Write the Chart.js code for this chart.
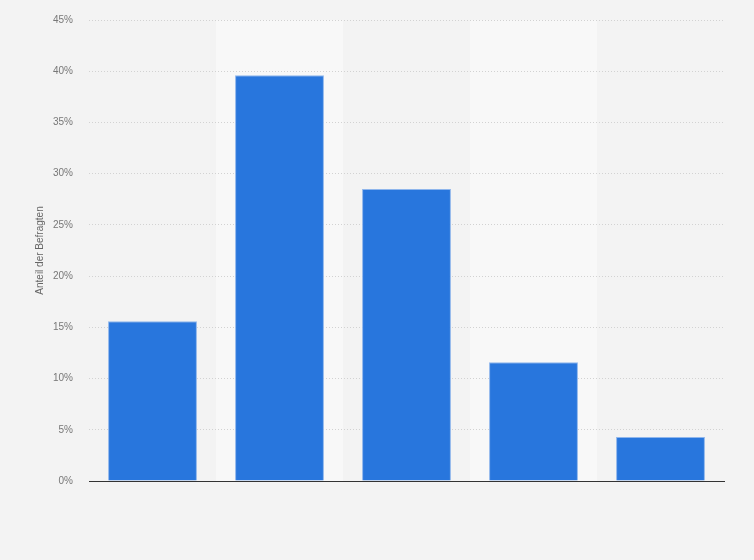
<!DOCTYPE html>
<html>
<head>
<meta charset="utf-8">
<script src="https://cdn.jsdelivr.net/npm/chart.js@4/dist/chart.umd.min.js"></script>
<style>
  html, body { margin: 0; padding: 0; background: #f3f3f3; }
  #wrap { width: 754px; height: 560px; position: relative; }
</style>
</head>
<body>
<div id="wrap"><canvas id="chart1"></canvas></div>
<script>
// categories are not labelled in the picture
const kategorien = ["1", "2", "3", "4", "5"];
const anteile = [15.6, 39.6, 28.5, 11.6, 4.3];
const yTicks = [0, 5, 10, 15, 20, 25, 30, 35, 40, 45];

// lighter band behind every second category, under the grid
const bandPlugin = {
  id: "bands",
  beforeDraw(chart) {
    const { ctx, chartArea, scales } = chart;
    const x = scales.x;
    const step = x.width / kategorien.length;
    ctx.save();
    ctx.fillStyle = "#f8f8f8";
    kategorien.forEach((k, i) => {
      if (i % 2 === 1) {
        const c = x.getPixelForValue(i);
        ctx.fillRect(c - step / 2, chartArea.top, step, chartArea.bottom - chartArea.top);
      }
    });
    ctx.restore();
  }
};

function renderChart() {
  const ctx = document.querySelector("#chart1").getContext("2d");
  const chart = new Chart(ctx, {
    type: "bar",
    data: {
      labels: kategorien,
      datasets: [
        {
          label: "Anteil der Befragten",
          data: anteile,
          backgroundColor: "#2876dd",
          borderColor: "#8fb6ec",
          borderWidth: 1,
          barPercentage: 0.7,
          categoryPercentage: 1,
        },
      ],
    },
    options: {
      responsive: true,
      maintainAspectRatio: false,
      animation: false,
      layout: { padding: { top: 20, right: 30, bottom: 79, left: 0 } },
      plugins: {
        legend: { display: false },
        tooltip: { enabled: false },
      },
      scales: {
        x: {
          ticks: { display: false },
          grid: { display: false },
          border: { display: true, color: "#333333", width: 1 },
          afterFit: (s) => { s.height = 0; },
        },
        y: {
          min: 0,
          max: 45,
          afterBuildTicks: (s) => { s.ticks = yTicks.map(v => ({ value: v })); },
          afterFit: (s) => { s.width = 89; s.paddingTop = 0; s.paddingBottom = 0; },
          ticks: {
            padding: 16,
            color: "#777777",
            font: { family: "Liberation Sans", size: 10 },
            callback: (v) => v + "%",
          },
          grid: {
            color: "#d2d2d2",
            drawTicks: false,
          },
          border: { display: false, dash: [1, 2] },
          title: {
            display: true,
            text: "Anteil der Befragten",
            color: "#666666",
            font: { family: "Liberation Sans", size: 10 },
            padding: { top: 34, bottom: 0 },
          },
        },
      },
    },
    plugins: [bandPlugin],
  });
}
renderChart();
</script>
</body>
</html>
